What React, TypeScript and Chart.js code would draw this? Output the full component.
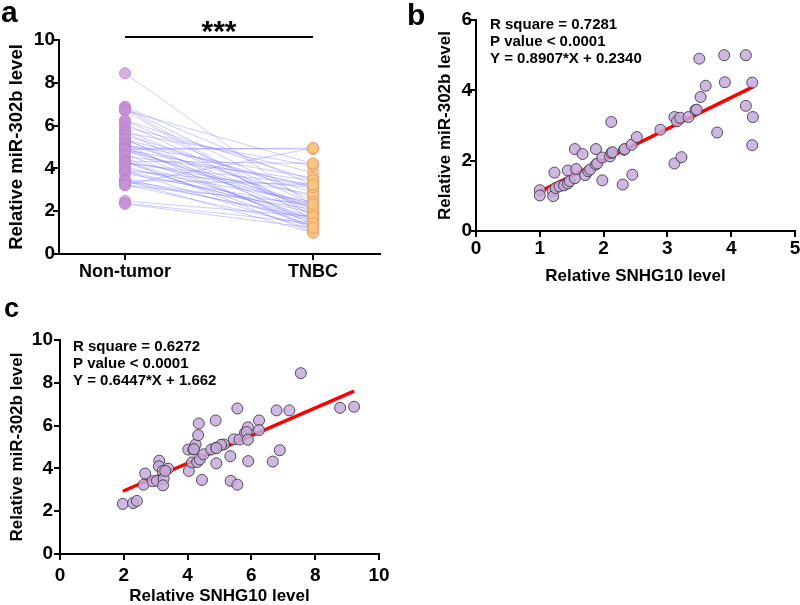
import React, { useEffect, useRef } from 'react';
import { Chart, registerables } from 'chart.js';

Chart.register(...registerables);

const FAMILY = "'Liberation Sans', Arial, sans-serif";

// ---------- Panel a data ----------
const groupLabels = ['Non-tumor', 'TNBC'];
const nonTumor = [8.45, 6.88, 6.83, 6.80, 6.71, 6.71, 6.24, 6.24, 6.10, 5.92, 5.79, 5.70, 5.66, 5.55, 5.36, 5.35, 5.34, 5.12, 5.12, 5.10, 4.97, 4.95, 4.90, 4.88, 4.88, 4.88, 4.85, 4.66, 4.57, 4.42, 4.36, 4.34, 4.32, 4.30, 4.28, 4.24, 4.10, 3.99, 3.88, 3.88, 3.88, 3.76, 3.50, 3.46, 3.42, 3.42, 3.40, 3.24, 3.24, 3.21, 2.48, 2.38, 2.34];
const tnbc = [2.24, 3.24, 2.45, 1.76, 4.22, 1.60, 3.45, 2.33, 1.92, 3.81, 2.12, 1.35, 4.13, 2.88, 1.50, 3.10, 2.09, 1.16, 2.67, 3.56, 1.89, 4.90, 2.31, 4.95, 1.27, 3.22, 2.19, 1.42, 3.44, 2.33, 1.01, 4.23, 1.72, 2.80, 1.30, 3.24, 1.66, 2.44, 1.14, 3.12, 1.92, 2.22, 1.59, 3.24, 0.99, 2.10, 1.70, 4.95, 1.32, 2.33, 1.75, 1.44, 1.22];
const aYTitle = 'Relative miR-302b level';
const sigLabel = '***';

// ---------- Panel b data ----------
const bX = [1.00, 1.00, 1.20, 1.21, 1.23, 1.25, 1.31, 1.38, 1.44, 1.44, 1.47, 1.55, 1.55, 1.57, 1.67, 1.71, 1.76, 1.79, 1.88, 1.88, 1.90, 1.98, 1.98, 2.10, 2.12, 2.14, 2.12, 2.30, 2.32, 2.33, 2.45, 2.44, 2.52, 2.89, 3.11, 3.22, 3.11, 3.15, 3.20, 3.33, 3.44, 3.46, 3.52, 3.60, 3.50, 3.78, 3.89, 3.90, 4.23, 4.23, 4.33, 4.34, 4.33];
const bY = [1.16, 1.01, 1.14, 0.99, 1.66, 1.22, 1.27, 1.30, 1.35, 1.72, 1.42, 1.50, 2.33, 1.76, 2.19, 1.59, 1.70, 1.75, 1.89, 2.33, 1.92, 1.44, 2.09, 2.12, 2.22, 2.24, 3.10, 1.32, 2.31, 2.33, 1.60, 2.45, 2.67, 2.88, 1.92, 2.10, 3.24, 3.12, 3.22, 3.24, 3.44, 3.45, 3.81, 4.13, 4.90, 2.80, 5.00, 4.23, 5.00, 3.56, 4.22, 3.24, 2.44];
const bFit = { slope: 0.8907, intercept: 0.2340 };
const bStats = ['R square = 0.7281', 'P value < 0.0001', 'Y = 0.8907*X + 0.2340'];

// ---------- Panel c data ----------
const cX = [1.97, 2.29, 2.41, 2.62, 2.67, 2.90, 3.04, 3.11, 3.10, 3.22, 3.25, 3.23, 3.39, 3.30, 4.04, 4.02, 4.18, 4.25, 4.33, 4.35, 4.14, 4.30, 4.38, 4.45, 4.50, 4.74, 4.90, 4.88, 4.90, 5.14, 5.05, 5.34, 5.35, 5.56, 5.56, 5.45, 5.63, 5.80, 5.89, 5.85, 5.89, 5.90, 6.24, 6.24, 6.67, 6.89, 6.79, 7.19, 7.55, 8.78, 9.22, 4.20, 4.90];
const cY = [2.34, 2.38, 2.48, 3.24, 3.76, 3.40, 3.42, 4.36, 4.10, 3.88, 3.50, 3.21, 3.99, 3.88, 3.88, 4.88, 4.88, 5.12, 5.55, 6.10, 4.28, 4.30, 4.42, 3.46, 4.66, 4.88, 4.97, 6.24, 4.24, 5.12, 5.10, 4.57, 3.42, 3.24, 6.80, 5.36, 5.35, 5.66, 5.92, 5.70, 5.34, 4.34, 6.24, 5.79, 4.32, 4.85, 6.71, 6.71, 8.45, 6.83, 6.88, 4.90, 4.95];
const cFit = { slope: 0.6447, intercept: 1.662 };
const cStats = ['R square = 0.6272', 'P value < 0.0001', 'Y = 0.6447*X + 1.662'];

const xTitleBC = 'Relative SNHG10 level';
const yTitleBC = 'Relative miR-302b level';

function font(size: number) {
  return { family: FAMILY, size, weight: 'bold' as const };
}

function makeAxis(o: any) {
  return {
    type: 'linear',
    min: o.min,
    max: o.max,
    border: { display: true, color: '#000', width: 2 },
    grid: { display: true, drawOnChartArea: false, drawTicks: true, tickLength: 6, color: '#000', lineWidth: 2 },
    ticks: { color: '#000', font: font(o.tickSize ?? 19), padding: o.tickPad ?? 0, stepSize: o.step, ...(o.ticksExtra || {}) },
    title: o.title
      ? { display: true, text: o.title, color: '#000', font: font(o.titleSize ?? 17), padding: o.titlePad }
      : { display: false },
    afterFit: (s: any) => {
      if (o.width !== undefined) s.width = o.width;
      if (o.height !== undefined) s.height = o.height;
    },
    ...(o.extra || {}),
  };
}

function fitLine(xs: number[], fit: { slope: number; intercept: number }) {
  const lo = Math.min(...xs);
  const hi = Math.max(...xs);
  return [
    { x: lo, y: fit.slope * lo + fit.intercept },
    { x: hi, y: fit.slope * hi + fit.intercept },
  ];
}

const scatterStyle = {
  pointRadius: 5.5,
  pointBackgroundColor: 'rgba(198,170,218,0.85)',
  pointBorderColor: 'rgba(70,60,75,0.9)',
  pointBorderWidth: 1,
  showLine: false,
};

function useChart(ref: React.RefObject<HTMLCanvasElement>, build: () => any) {
  useEffect(() => {
    if (!ref.current) return;
    const chart = new Chart(ref.current, build());
    return () => chart.destroy();
  }, []);
}

function PanelA() {
  const ref = useRef<HTMLCanvasElement>(null);
  useChart(ref, () => {
    const lineSets = nonTumor.map((v, i) => ({
      type: 'line',
      data: [{ x: 0, y: v }, { x: 1, y: tnbc[i] }],
      borderColor: 'rgba(115,115,255,0.36)',
      borderWidth: 1,
      pointRadius: 0,
      order: 5,
    }));
    const overlay = {
      id: 'overlayA',
      afterDraw(chart: any) {
        const ctx = chart.ctx;
        const xs = chart.scales.x;
        const ca = chart.chartArea;
        ctx.save();
        ctx.fillStyle = '#000';
        ctx.font = `bold 30px ${FAMILY}`;
        ctx.textAlign = 'left';
        ctx.textBaseline = 'alphabetic';
        ctx.fillText('a', 1, 22);
        const x0 = xs.getPixelForValue(0);
        const x1 = xs.getPixelForValue(1);
        const yb = ca.top - 3;
        ctx.strokeStyle = '#000';
        ctx.lineWidth = 2;
        ctx.beginPath();
        ctx.moveTo(x0, yb);
        ctx.lineTo(x1, yb);
        ctx.stroke();
        ctx.textAlign = 'center';
        ctx.fillText(sigLabel, (x0 + x1) / 2, yb + 4);
        ctx.restore();
      },
    };
    return {
      type: 'scatter',
      data: {
        datasets: [
          {
            data: nonTumor.map((v) => ({ x: 0, y: v })),
            pointRadius: 5.5,
            pointBackgroundColor: 'rgba(198,145,214,0.72)',
            pointBorderColor: 'rgba(190,130,210,0.8)',
            pointBorderWidth: 1,
            order: 1,
          },
          {
            data: tnbc.map((v) => ({ x: 1, y: v })),
            pointRadius: 5.5,
            pointBackgroundColor: 'rgba(246,200,128,0.8)',
            pointBorderColor: 'rgba(240,150,110,0.85)',
            pointBorderWidth: 1,
            order: 1,
          },
          ...lineSets,
        ],
      },
      options: {
        responsive: false,
        animation: false,
        layout: { padding: { top: 40, right: 20, left: 0, bottom: 0 } },
        plugins: { legend: { display: false }, tooltip: { enabled: false } },
        scales: {
          x: makeAxis({
            min: -0.351, max: 1.356, height: 36, tickPad: 1, tickSize: 18,
            extra: {
              afterBuildTicks: (s: any) => { s.ticks = [{ value: 0 }, { value: 1 }]; },
            },
            ticksExtra: { callback: (_v: any, i: number) => groupLabels[i] },
          }),
          y: makeAxis({ min: 0, max: 10, step: 2, width: 59, tickPad: -2, title: aYTitle, titleSize: 18.5, titlePad: { top: 6, bottom: 0 } }),
        },
      },
      plugins: [overlay],
    };
  });
  return <canvas ref={ref} width={400} height={290} style={{ position: 'absolute', left: 0, top: 0 }} />;
}

function ScatterPanel(props: any) {
  const ref = useRef<HTMLCanvasElement>(null);
  const p = props;
  useChart(ref, () => {
    const overlay = {
      id: 'overlay' + p.letter,
      afterDraw(chart: any) {
        const ctx = chart.ctx;
        const ca = chart.chartArea;
        ctx.save();
        ctx.fillStyle = '#000';
        ctx.font = `bold ${p.letterSize}px ${FAMILY}`;
        ctx.textAlign = 'left';
        ctx.textBaseline = 'alphabetic';
        ctx.fillText(p.letter, p.letterX, p.letterY);
        ctx.font = `bold 15px ${FAMILY}`;
        ctx.textBaseline = 'middle';
        p.stats.forEach((s: string, i: number) => {
          ctx.fillText(s, ca.left + p.statDX, ca.top + p.statDY + i * 16.7);
        });
        ctx.restore();
      },
    };
    return {
      type: 'scatter',
      data: {
        datasets: [
          { data: p.xs.map((x: number, i: number) => ({ x, y: p.ys[i] })), ...scatterStyle, order: 1 },
          {
            type: 'line',
            data: fitLine(p.xs, p.fit),
            borderColor: '#ff0000',
            borderWidth: 3.5,
            pointRadius: 0,
            order: 2,
          },
        ],
      },
      options: {
        responsive: false,
        animation: false,
        layout: { padding: p.padding },
        plugins: { legend: { display: false }, tooltip: { enabled: false } },
        scales: {
          x: makeAxis({ ...p.xAxis, title: xTitleBC }),
          y: makeAxis({ ...p.yAxis, title: yTitleBC }),
        },
      },
      plugins: [overlay],
    };
  });
  return <canvas ref={ref} width={p.w} height={p.h} style={{ position: 'absolute', left: p.left, top: p.top }} />;
}

export default function App() {
  return (
    <div style={{ position: 'absolute', left: 0, top: 0, width: 800, height: 605, overflow: 'hidden', background: '#fff' }}>
      <PanelA />
      <ScatterPanel
        letter="b" letterSize={30} letterX={7} letterY={25}
        left={400} top={0} w={410} h={290}
        padding={{ top: 20, right: 15, left: 0, bottom: 0 }}
        xs={bX} ys={bY} fit={bFit} stats={bStats} statDX={14} statDY={5}
        xAxis={{ min: 0, max: 5, step: 1, height: 59, tickPad: 0, titleSize: 17, titlePad: { top: 0, bottom: 3 } }}
        yAxis={{ min: 0, max: 6, step: 2, width: 76, tickPad: -2, titleSize: 17, titlePad: { top: 35, bottom: 0 } }}
      />
      <ScatterPanel
        letter="c" letterSize={27} letterX={4} letterY={27}
        left={0} top={290} w={400} h={315}
        padding={{ top: 50, right: 21, left: 0, bottom: 0 }}
        xs={cX} ys={cY} fit={cFit} stats={cStats} statDX={13} statDY={7}
        xAxis={{ min: 0, max: 10, step: 2, height: 51, tickPad: 4, titleSize: 17, titlePad: { top: 0, bottom: -2 } }}
        yAxis={{ min: 0, max: 10, step: 2, width: 60, tickPad: 1, titleSize: 17, titlePad: { top: 7, bottom: 0 } }}
      />
    </div>
  );
}
